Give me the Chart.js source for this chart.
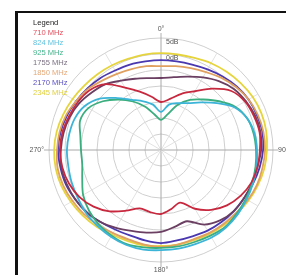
<!DOCTYPE html>
<html>
<head>
<meta charset="utf-8">
<script src="https://cdn.jsdelivr.net/npm/chart.js"></script>
<style>
  body { margin: 0; background: #fff; }
  #frame { position: absolute; left: 15px; top: 11px; width: 300px; height: 300px; border-left: 3px solid #111; border-top: 2px solid #111; }
  #chart { position: absolute; left: 0; top: 0; }
  #legend { position: absolute; left: 33px; top: 18px; font: 7.6px "Liberation Sans", Arial, sans-serif; line-height: 10px; }
</style>
</head>
<body>
<div id="frame"></div>
<canvas id="chart" width="286" height="275"></canvas>
<div id="legend"></div>
<script>
// angles in degrees, clockwise from top, every 10 degrees
const angles = [0, 10, 20, 30, 40, 50, 60, 70, 80, 90, 100, 110, 120, 130, 140, 150, 160, 170,
  180, 190, 200, 210, 220, 230, 240, 250, 260, 270, 280, 290, 300, 310, 320, 330, 340, 350];
const angleTickLabels = ['0°', '90°', '180°', '270°'];
const dbTickLabels = ['5dB', '0dB'];

// gain in dB for each frequency
const mhz710 = [-15.0, -13.8, -11.3, -8.8, -5.0, -1.3, 0.3, 0.9, 1.3, 0.9, 0.6, 0.0, -1.3, -3.1, -5.6, -8.8, -12.5, -11.3,
  -10.0, -10.3, -10.6, -8.1, -5.0, -2.5, -0.6, 0.6, 1.3, 1.6, 1.3, 0.6, 0.0, -0.9, -3.1, -7.5, -10.6, -13.1];
const mhz824 = [-18.1, -15.6, -14.4, -13.1, -10.6, -7.2, -3.4, -1.3, -0.3, 0.0, 0.3, 0.6, 0.9, 1.3, 1.6, 1.6, 1.3, 1.3,
  1.3, 1.6, 1.6, 1.3, 0.9, 0.6, 0.0, -0.3, -0.6, -0.6, -0.9, -1.3, -2.5, -5.0, -8.8, -11.9, -13.8, -15.6];
const mhz925 = [-20.6, -18.8, -15.0, -11.9, -9.4, -6.3, -3.1, -1.3, -0.6, -0.3, 0.0, 0.3, 0.6, 0.9, 1.3, 0.9, 0.6, 0.6,
  0.6, 0.9, 1.3, 0.9, 0.3, -0.6, -1.9, -3.8, -5.0, -5.0, -4.4, -3.1, -3.8, -6.3, -9.4, -12.5, -15.6, -18.8];
const mhz1755 = [-7.5, -6.9, -5.6, -3.8, -1.9, -0.3, 0.6, 1.3, 1.6, 1.3, 0.6, 0.3, 0.0, -0.3, -1.3, -3.1, -6.3, -5.6,
  -4.4, -3.8, -3.1, -1.9, -0.6, 0.3, 0.9, 1.3, 1.6, 1.3, 0.9, 0.3, -0.6, -1.9, -3.1, -5.0, -6.3, -7.2];
const mhz1850 = [-3.8, -3.4, -2.8, -1.9, -0.6, 0.6, 1.6, 2.2, 2.5, 2.5, 2.2, 1.9, 1.3, 0.6, 0.3, 0.0, -0.3, 0.0,
  0.3, 0.0, -0.3, 0.0, 0.6, 1.3, 1.9, 2.5, 2.8, 2.5, 2.2, 1.6, 0.6, -0.3, -1.6, -2.5, -3.1, -3.4];
const mhz2170 = [-1.9, -1.9, -1.6, -0.9, 0.0, 0.9, 1.6, 1.9, 2.2, 1.9, 1.3, 0.6, 0.0, -0.3, -0.6, -0.9, -1.3, -1.3,
  -0.9, -1.3, -1.6, -1.3, -0.6, 0.3, 0.9, 1.6, 1.9, 2.2, 1.9, 1.3, 0.6, 0.0, -0.6, -1.3, -1.6, -1.9];
const mhz2345 = [0.3, 0.3, 0.6, 1.3, 1.9, 2.5, 3.1, 3.4, 3.4, 3.1, 2.8, 2.2, 1.6, 0.9, 0.6, 0.3, 0.0, 0.0,
  0.0, 0.3, 0.3, 0.6, 1.3, 1.9, 2.5, 3.1, 3.4, 3.4, 3.1, 2.5, 1.9, 1.3, 0.9, 0.6, 0.3, 0.3];

const seriesNames = ['710 MHz', '824 MHz', '925 MHz', '1755 MHz', '1850 MHz', '2170 MHz', '2345 MHz'];
const seriesData = [mhz710, mhz824, mhz925, mhz1755, mhz1850, mhz2170, mhz2345];
const lineColors = ['#c8283e', '#3cb4d8', '#3aae7e', '#6a3f62', '#e0a060', '#4a38b0', '#e6d43c'];
const textColors = ['#e0505e', '#62c4e0', '#44b48c', '#7a7080', '#e4a878', '#5a50c0', '#e0d040'];

// html legend
const legendEl = document.getElementById('legend');
legendEl.innerHTML = '<div style="color:#222">Legend</div>' +
  seriesNames.map((n, i) => '<div style="color:' + textColors[i] + '">' + n + '</div>').join('');

const axisLabels = {
  id: 'axisLabels',
  afterDraw(chart) {
    const s = chart.scales.r;
    const ctx = chart.ctx;
    ctx.save();
    // main axes run a little past the outer ring
    ctx.strokeStyle = '#b0b0b0';
    ctx.lineWidth = 1;
    [0, 9, 18, 27].forEach((idx) => {
      const a = s.getPointPosition(idx, s.drawingArea);
      const b = s.getPointPosition(idx, s.drawingArea + 5);
      ctx.beginPath();
      ctx.moveTo(a.x, a.y);
      ctx.lineTo(b.x, b.y);
      ctx.stroke();
    });
    ctx.font = '7px "Liberation Sans", Arial, sans-serif';
    ctx.fillStyle = '#555';
    const far = s.drawingArea + 5;
    const places = [
      { idx: 0, align: 'center', base: 'bottom' },
      { idx: 9, align: 'left', base: 'middle' },
      { idx: 18, align: 'center', base: 'top' },
      { idx: 27, align: 'right', base: 'middle' }
    ];
    places.forEach((p, i) => {
      const pos = s.getPointPosition(p.idx, far);
      ctx.textAlign = p.align;
      ctx.textBaseline = p.base;
      ctx.fillText(angleTickLabels[i], pos.x, pos.y);
    });
    ctx.textAlign = 'left';
    ctx.textBaseline = 'middle';
    [5, 0].forEach((v, i) => {
      const pos = s.getPointPositionForValue(0, v);
      ctx.fillText(dbTickLabels[i], pos.x + 5, pos.y + 4);
    });
    ctx.restore();
  }
};

new Chart(document.getElementById('chart'), {
  type: 'radar',
  data: {
    labels: angles,
    datasets: seriesData.map((d, i) => ({
      label: seriesNames[i],
      data: d,
      borderColor: lineColors[i],
      backgroundColor: 'transparent',
      borderWidth: 1.8,
      pointRadius: 0,
      tension: 0.3,
      fill: false
    }))
  },
  options: {
    responsive: false,
    animation: false,
    layout: {
      padding: { left: 49, top: 38, right: 13, bottom: 13 }
    },
    plugins: {
      legend: { display: false },
      tooltip: { enabled: false }
    },
    scales: {
      r: {
        min: -30,
        max: 5,
        ticks: { stepSize: 5, display: false },
        grid: { circular: true, color: '#cfcfcf', lineWidth: 1 },
        angleLines: {
          color: (ctx) => ctx.index % 9 === 0 ? '#a8a8a8' : (ctx.index % 3 === 0 ? '#e2e2e2' : 'transparent'),
          lineWidth: 1
        },
        pointLabels: { display: false }
      }
    }
  },
  plugins: [axisLabels]
});
</script>
</body>
</html>
